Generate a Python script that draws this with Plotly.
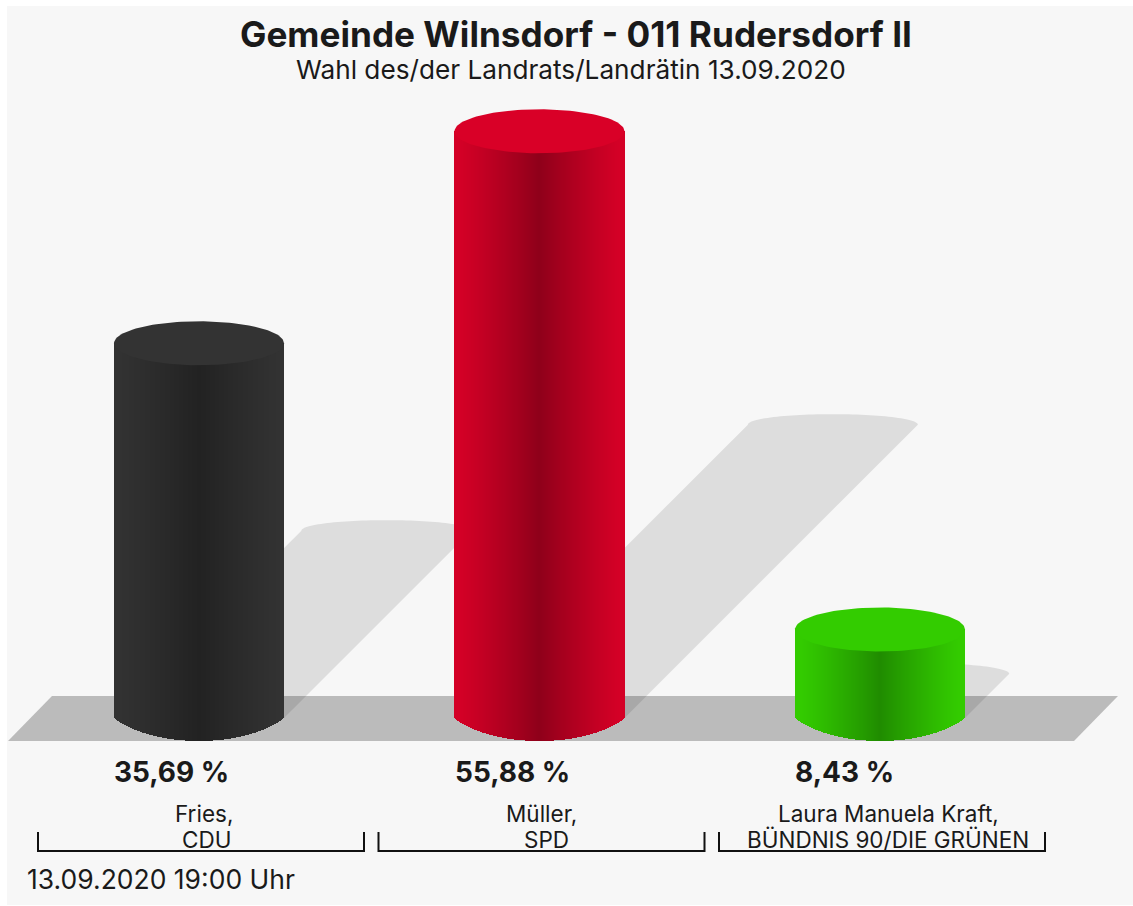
import numpy as np
import plotly.graph_objects as go

# ---- data ----
candidates = ["Fries,", "Müller,", "Laura Manuela Kraft,"]
parties = ["CDU", "SPD", "BÜNDNIS 90/DIE GRÜNEN"]
values = [35.69, 55.88, 8.43]
value_labels = ["35,69 %", "55,88 %", "8,43 %"]
title_text = "Gemeinde Wilnsdorf - 011 Rudersdorf II"
subtitle_text = "Wahl des/der Landrats/Landrätin 13.09.2020"
stamp_text = "13.09.2020 19:00 Uhr"

# ---- styling ----
top_colors = ["#333333", "#d90027", "#33cc00"]
edge_colors = [(50, 50, 50), (212, 0, 38), (51, 204, 0)]
dark_colors = [(34, 34, 34), (143, 0, 26), (32, 140, 0)]
W, H = 1133, 906
L, T, B = 7, 6, 905
BASE_PX, PX_PER_PCT = 718, 10.5
X0_PX, STEP_PX = 199, 340.5
HALF = 85 / STEP_PX
RY_TOP = 22 / PX_PER_PCT
RY_BOTTOM = 23 / PX_PER_PCT
RY_SHADOW = 10.5 / PX_PER_PCT
ARC_K = 0.85
STRIPS = 170


def xd(px):
    return (px - X0_PX) / STEP_PX


def yd(px):
    return (BASE_PX - px) / PX_PER_PCT


def px_per_unit_shift(v):
    # shadow falls at 45 degrees: horizontal px = vertical px
    return v * 0.5 * PX_PER_PCT / STEP_PX


def path(xs, ys):
    return "M " + " L ".join(f"{a:.5f},{b:.5f}" for a, b in zip(xs, ys)) + " Z"


def bottom_arc(u):
    # shallow arc that meets the cylinder side at a corner
    edge = np.sqrt(1 - ARC_K ** 2)
    return -RY_BOTTOM * (np.sqrt(1 - (u * ARC_K) ** 2) - edge) / (1 - edge)


fig = go.Figure()
shapes = []

# floor (below the traces)
shapes.append(dict(
    type="path", xref="x", yref="y", layer="below", line=dict(width=0), fillcolor="#bbbbbb",
    path=path([xd(8), xd(52), xd(1118), xd(1074)], [yd(741), yd(696), yd(696), yd(741)])))

theta = np.linspace(0, np.pi, 60)
# shadows (below the traces)
for i, v in enumerate(values):
    sx = i + px_per_unit_shift(v)
    sy = v * 0.5
    xs = np.concatenate([[i + HALF], sx + HALF * np.cos(theta), [i - HALF]])
    ys = np.concatenate([[0], sy + RY_SHADOW * np.sin(theta), [0]])
    shapes.append(dict(type="path", xref="x", yref="y", layer="below", line=dict(width=0),
                       fillcolor="rgba(0,0,0,0.1)", path=path(xs, ys)))

# cylinder bodies: vertical strips, each a bar
us = (np.arange(STRIPS) + 0.5) / STRIPS * 2 - 1
for i, v in enumerate(values):
    colors = []
    for u in us:
        m = max(0.0, 1 - abs(u) / 0.95) ** 1.15
        c = [round(a + (b - a) * m) for a, b in zip(edge_colors[i], dark_colors[i])]
        colors.append(f"rgb({c[0]},{c[1]},{c[2]})")
    bases = bottom_arc(us)
    fig.add_trace(go.Bar(
        x=i + us * HALF, y=v - bases, base=bases, width=2 * HALF / STRIPS,
        marker=dict(color=colors, line=dict(width=0)),
        name=parties[i], hoverinfo="skip", showlegend=False))

# cylinder tops
theta2 = np.linspace(0, 2 * np.pi, 121)
for i, v in enumerate(values):
    fig.add_trace(go.Scatter(
        x=i + HALF * np.cos(theta2), y=v + RY_TOP * np.sin(theta2),
        mode="lines", fill="toself", fillcolor=top_colors[i],
        line=dict(width=0), hoverinfo="skip", showlegend=False))

# brackets
bx, by = [], []
for i in range(len(values)):
    c = 201 + 340.5 * i
    bx += [xd(c - 163), xd(c - 163), xd(c + 163), xd(c + 163), None]
    by += [yd(832), yd(851), yd(851), yd(832), None]
fig.add_trace(go.Scatter(x=bx, y=by, mode="lines", line=dict(color="#111111", width=2),
                         hoverinfo="skip", showlegend=False))

ann = []


def text(s, xpx, ypx, size, anchor="center", bold=False):
    ann.append(dict(
        x=xd(xpx), y=yd(ypx), xref="x", yref="y", text=f"<b>{s}</b>" if bold else s,
        showarrow=False, xanchor=anchor, yanchor="middle",
        font=dict(family="Inter", size=size, color="#1a1a1a")))


text(title_text, 576, 34, 35.2, bold=True)
text(subtitle_text, 571, 69, 26.2)
for i, v in enumerate(values):
    text(value_labels[i], X0_PX + STEP_PX * i - 87, 772, 28, anchor="left", bold=True)
centers = [204, 541, 888]
for i in range(3):
    text(candidates[i], centers[i], 813, 22.5)
    text(parties[i], centers[i] + (2 if i == 0 else 5 if i == 1 else 0), 839.5, 22.5)
text(stamp_text, 25, 879, 26.5, anchor="left")

fig.update_layout(
    width=W, height=H, autosize=False,
    margin=dict(l=L, r=0, t=T, b=H - B, pad=0),
    paper_bgcolor="#ffffff", plot_bgcolor="#f7f7f7",
    barmode="overlay", bargap=0, showlegend=False,
    xaxis=dict(range=[xd(L), xd(W)], visible=False, fixedrange=True),
    yaxis=dict(range=[yd(B), yd(T)], visible=False, fixedrange=True),
    annotations=ann, shapes=shapes,
)
fig.write_html("out.html", config=dict(displayModeBar=False),
               post_script="document.body.style.margin='0';document.body.style.overflow='hidden';")
